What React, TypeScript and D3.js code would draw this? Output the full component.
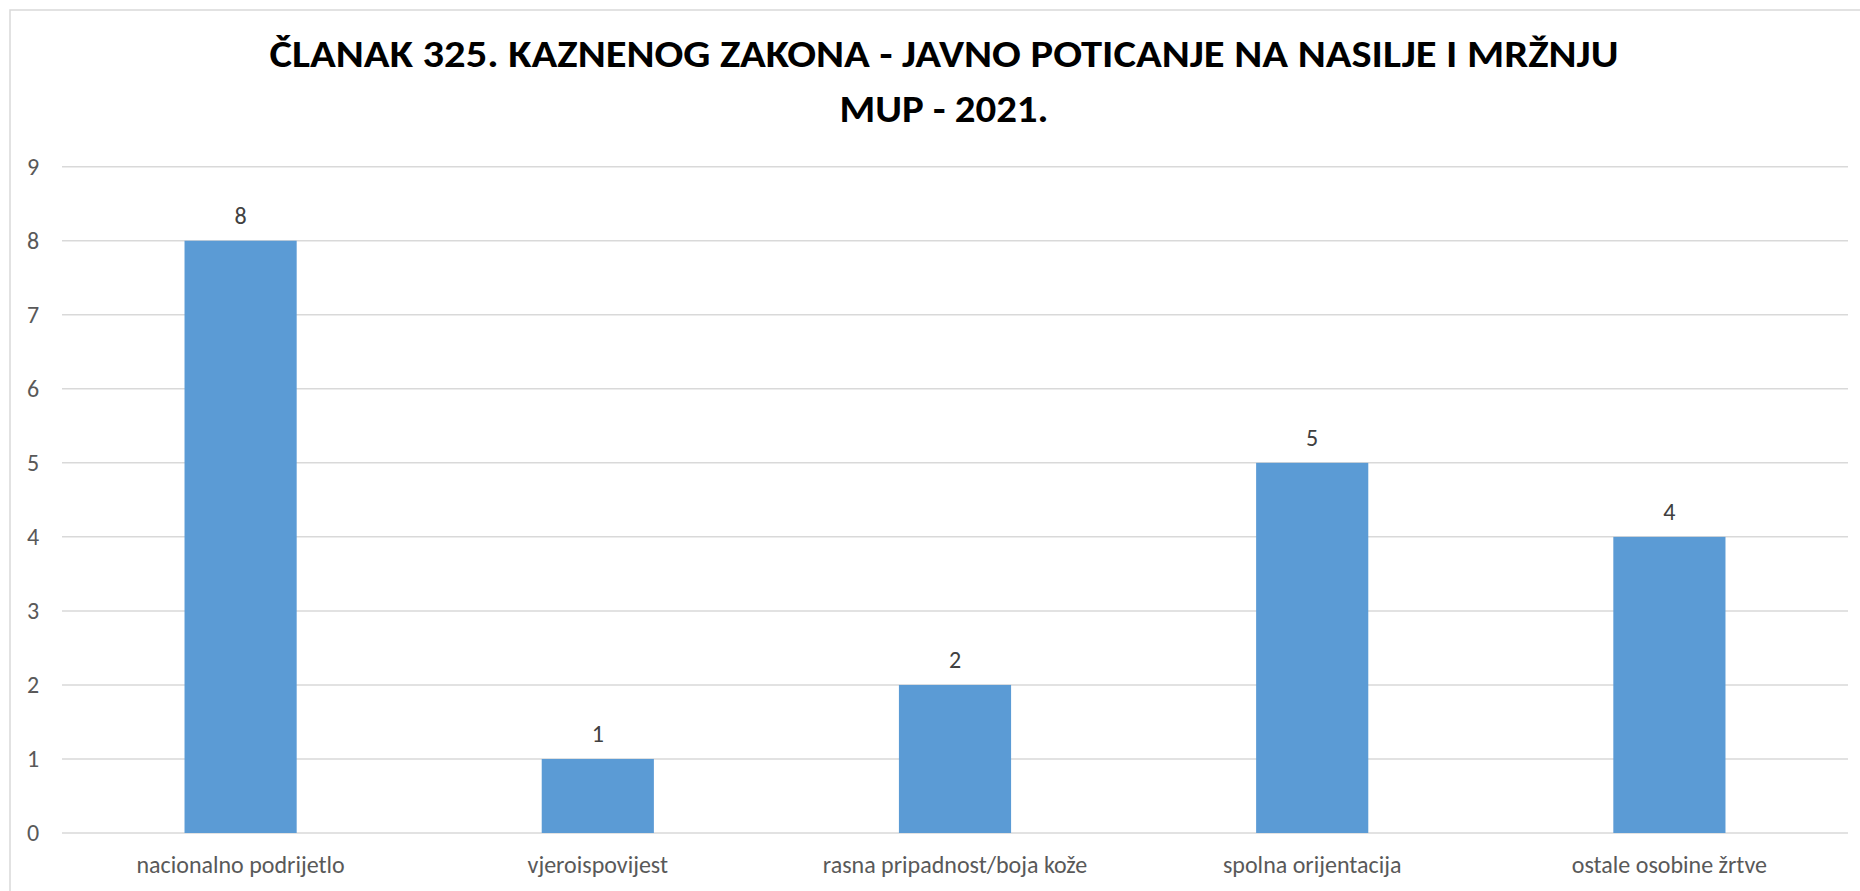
import React, { useEffect, useRef } from "react";
import * as d3 from "d3";

const titleLines = [
  "ČLANAK 325. KAZNENOG ZAKONA - JAVNO POTICANJE NA NASILJE I MRŽNJU",
  "MUP - 2021.",
];
const categories = [
  "nacionalno podrijetlo",
  "vjeroispovijest",
  "rasna pripadnost/boja kože",
  "spolna orijentacija",
  "ostale osobine žrtve",
];
const values = [8, 1, 2, 5, 4];
const yTicks = [0, 1, 2, 3, 4, 5, 6, 7, 8, 9];

const FONT = "Carlito, Calibri, 'Open Sans', sans-serif";

export default function App() {
  const ref = useRef<SVGSVGElement>(null);

  useEffect(() => {
    const width = 1860;
    const height = 891;
    const plot = { left: 62, right: 1848, top: 166.7, bottom: 833 };

    const svg = d3.select(ref.current);
    svg.selectAll("*").remove();

    svg
      .append("rect")
      .attr("width", width)
      .attr("height", height)
      .attr("fill", "#ffffff");

    // chart area border (only top/left visible, the rest is cut off)
    svg
      .append("rect")
      .attr("x", 10)
      .attr("y", 10)
      .attr("width", width + 20)
      .attr("height", height + 20)
      .attr("fill", "none")
      .attr("stroke", "#d9d9d9")
      .attr("stroke-width", 1.5);

    const x = d3
      .scaleBand()
      .domain(categories)
      .range([plot.left, plot.right])
      .paddingInner(0.686)
      .paddingOuter(0.343);

    const y = d3
      .scaleLinear()
      .domain([0, 9])
      .range([plot.bottom, plot.top]);

    // title
    svg
      .selectAll(".title")
      .data(titleLines)
      .enter()
      .append("text")
      .attr("class", "title")
      .attr("x", 944)
      .attr("y", (d, i) => 67 + i * 55)
      .attr("text-anchor", "middle")
      .style("font-family", FONT)
      .style("font-weight", "bold")
      .style("font-size", "38px")
      .attr("fill", "#000000")
      .attr("textLength", (d, i) => (i === 0 ? 1349 : 209))
      .attr("lengthAdjust", "spacingAndGlyphs")
      .text((d) => d);

    // gridlines
    svg
      .append("g")
      .selectAll("line")
      .data(yTicks)
      .enter()
      .append("line")
      .attr("x1", plot.left)
      .attr("x2", plot.right)
      .attr("y1", (d) => y(d))
      .attr("y2", (d) => y(d))
      .attr("stroke", "#d9d9d9")
      .attr("stroke-width", 1.5);

    // y labels
    svg
      .append("g")
      .selectAll("text")
      .data(yTicks)
      .enter()
      .append("text")
      .attr("x", 33)
      .attr("y", (d) => y(d))
      .attr("dy", "0.34em")
      .attr("text-anchor", "middle")
      .style("font-family", FONT)
      .style("font-size", "24px")
      .attr("fill", "#595959")
      .text((d) => d);

    // bars
    svg
      .append("g")
      .selectAll("rect")
      .data(values)
      .enter()
      .append("rect")
      .attr("x", (d, i) => x(categories[i]) as number)
      .attr("y", (d) => y(d))
      .attr("width", x.bandwidth())
      .attr("height", (d) => y(0) - y(d))
      .attr("fill", "#5b9bd5");

    // value labels
    svg
      .append("g")
      .selectAll("text")
      .data(values)
      .enter()
      .append("text")
      .attr("x", (d, i) => (x(categories[i]) as number) + x.bandwidth() / 2)
      .attr("y", (d) => y(d) - 17)
      .attr("text-anchor", "middle")
      .style("font-family", FONT)
      .style("font-size", "24px")
      .attr("fill", "#404040")
      .text((d) => d);

    // category labels
    svg
      .append("g")
      .selectAll("text")
      .data(categories)
      .enter()
      .append("text")
      .attr("x", (d) => (x(d) as number) + x.bandwidth() / 2)
      .attr("y", plot.bottom + 40)
      .attr("text-anchor", "middle")
      .style("font-family", FONT)
      .style("font-size", "24px")
      .attr("fill", "#595959")
      .text((d) => d);
  }, []);

  return (
    <svg
      ref={ref}
      width={1860}
      height={891}
      style={{ position: "absolute", left: 0, top: 0, display: "block" }}
    />
  );
}
